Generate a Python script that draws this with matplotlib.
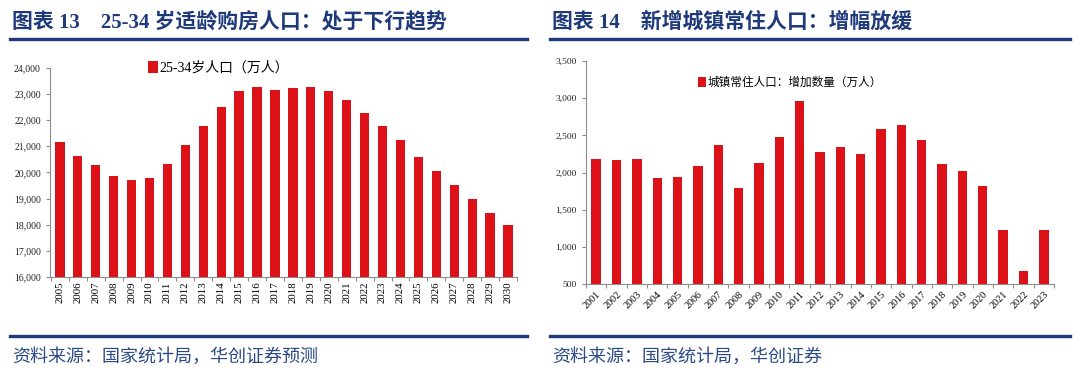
import matplotlib
matplotlib.use("Agg")
import matplotlib.pyplot as plt
from matplotlib.lines import Line2D

years_left = [str(y) for y in range(2005, 2031)]
pop_25_34 = [21150, 20640, 20285, 19865, 19690, 19765, 20310, 21035, 21775, 22490,
             23095, 23260, 23160, 23210, 23250, 23120, 22770, 22260, 21760, 21240,
             20600, 20040, 19535, 18990, 18450, 18000]
left_yticks = list(range(16000, 24001, 1000))

years_right = [str(y) for y in range(2001, 2024)]
urban_increase = [2177, 2164, 2177, 1926, 1944, 2092, 2366, 1791, 2128, 2482,
                  2966, 2271, 2348, 2249, 2585, 2643, 2437, 2110, 2016, 1814,
                  1226, 670, 1222]
right_yticks = list(range(500, 3501, 500))

title_left = "图表 13    25-34 岁适龄购房人口：处于下行趋势"
title_right = "图表 14    新增城镇常住人口：增幅放缓"
legend_left = "25-34岁人口（万人）"
legend_right = "城镇常住人口：增加数量（万人）"
source_left = "资料来源：国家统计局，华创证券预测"
source_right = "资料来源：国家统计局，华创证券"

RED = "#DD1219"
BLUE = "#1F3A7A"
SPINE = "#8C8C8C"
serif_cjk = ["Liberation Serif", "Noto Sans CJK SC"]

W, H = 1080, 383
fig = plt.figure(figsize=(W / 100, H / 100), dpi=100)
fig.patch.set_facecolor("white")

def fx(px):
    return px / W

def fy(py):
    return 1 - py / H

# titles, rules and sources
for x0, x1, title, src in [(10, 527, title_left, source_left),
                           (550, 1070, title_right, source_right)]:
    fig.text(fx(x0 + 2), fy(22), title, family=serif_cjk, fontsize=15,
             fontweight="bold", color=BLUE, va="center", ha="left")
    fig.add_artist(Line2D([fx(x0), fx(x1)], [fy(39), fy(39)], color=BLUE, lw=2.4))
    fig.add_artist(Line2D([fx(x0), fx(x1)], [fy(336), fy(336)], color=BLUE, lw=2.4))
    fig.text(fx(x0 + 2), fy(357), src, family=serif_cjk, fontsize=13,
             style="italic", color="#2B4A86", va="center", ha="left")

def style_axes(ax):
    for s in ["top", "right"]:
        ax.spines[s].set_visible(False)
    for s in ["left", "bottom"]:
        ax.spines[s].set_color(SPINE)
        ax.spines[s].set_linewidth(0.8)
    ax.tick_params(axis="both", colors=SPINE, length=3, width=0.8, labelcolor="#222222")

# left chart
axL = fig.add_axes([fx(50), fy(277), fx(517 - 50), (277 - 67.7) / H])
xl = range(len(years_left))
barsL = axL.bar(xl, pop_25_34, width=0.52, color=RED, label=legend_left)
axL.set_ylim(16000, 24000)
axL.set_xlim(-0.55, len(years_left) - 0.5)
axL.set_yticks(left_yticks)
axL.set_yticklabels([f"{v:,}" for v in left_yticks], family="Liberation Serif", fontsize=7)
axL.set_xticks([i - 0.5 for i in range(len(years_left) + 1)], minor=False)
axL.set_xticklabels([])
axL.set_xticks(list(xl), minor=True)
axL.set_xticklabels(years_left, minor=True, rotation=90, family="Liberation Serif", fontsize=7.8)
axL.tick_params(axis="x", which="minor", length=0, pad=3)
style_axes(axL)
axL.legend(handles=[barsL], labels=[legend_left], loc="center left",
           bbox_to_anchor=(fx(148), fy(68)), bbox_transform=fig.transFigure,
           frameon=False, handlelength=0.7, handleheight=0.9, handletextpad=0.15,
           borderpad=0, borderaxespad=0,
           prop={"family": serif_cjk, "size": 10})

# right chart
axR = fig.add_axes([fx(586), fy(284), fx(1054 - 586), (284 - 61) / H])
xr = range(len(years_right))
barsR = axR.bar(xr, urban_increase, width=0.46, color=RED, label=legend_right)
axR.set_ylim(500, 3500)
axR.set_xlim(-0.5, len(years_right) - 0.5)
axR.set_yticks(right_yticks)
axR.set_yticklabels([f"{v:,}" for v in right_yticks], family="Liberation Serif", fontsize=6.8)
axR.set_xticks([i - 0.5 for i in range(len(years_right) + 1)], minor=False)
axR.set_xticklabels([])
axR.set_xticks(list(xr), minor=True)
axR.set_xticklabels(years_right, minor=True, rotation=45, ha="right", rotation_mode="anchor",
                    family="Liberation Serif", fontsize=7.3)
axR.tick_params(axis="x", which="minor", length=0, pad=4)
style_axes(axR)
axR.legend(handles=[barsR], labels=[legend_right], loc="center left",
           bbox_to_anchor=(fx(698), fy(83)), bbox_transform=fig.transFigure,
           frameon=False, handlelength=0.7, handleheight=0.9, handletextpad=0.15,
           borderpad=0, borderaxespad=0,
           prop={"family": serif_cjk, "size": 8.4})

fig.savefig("out.png", dpi=100, facecolor="white")
